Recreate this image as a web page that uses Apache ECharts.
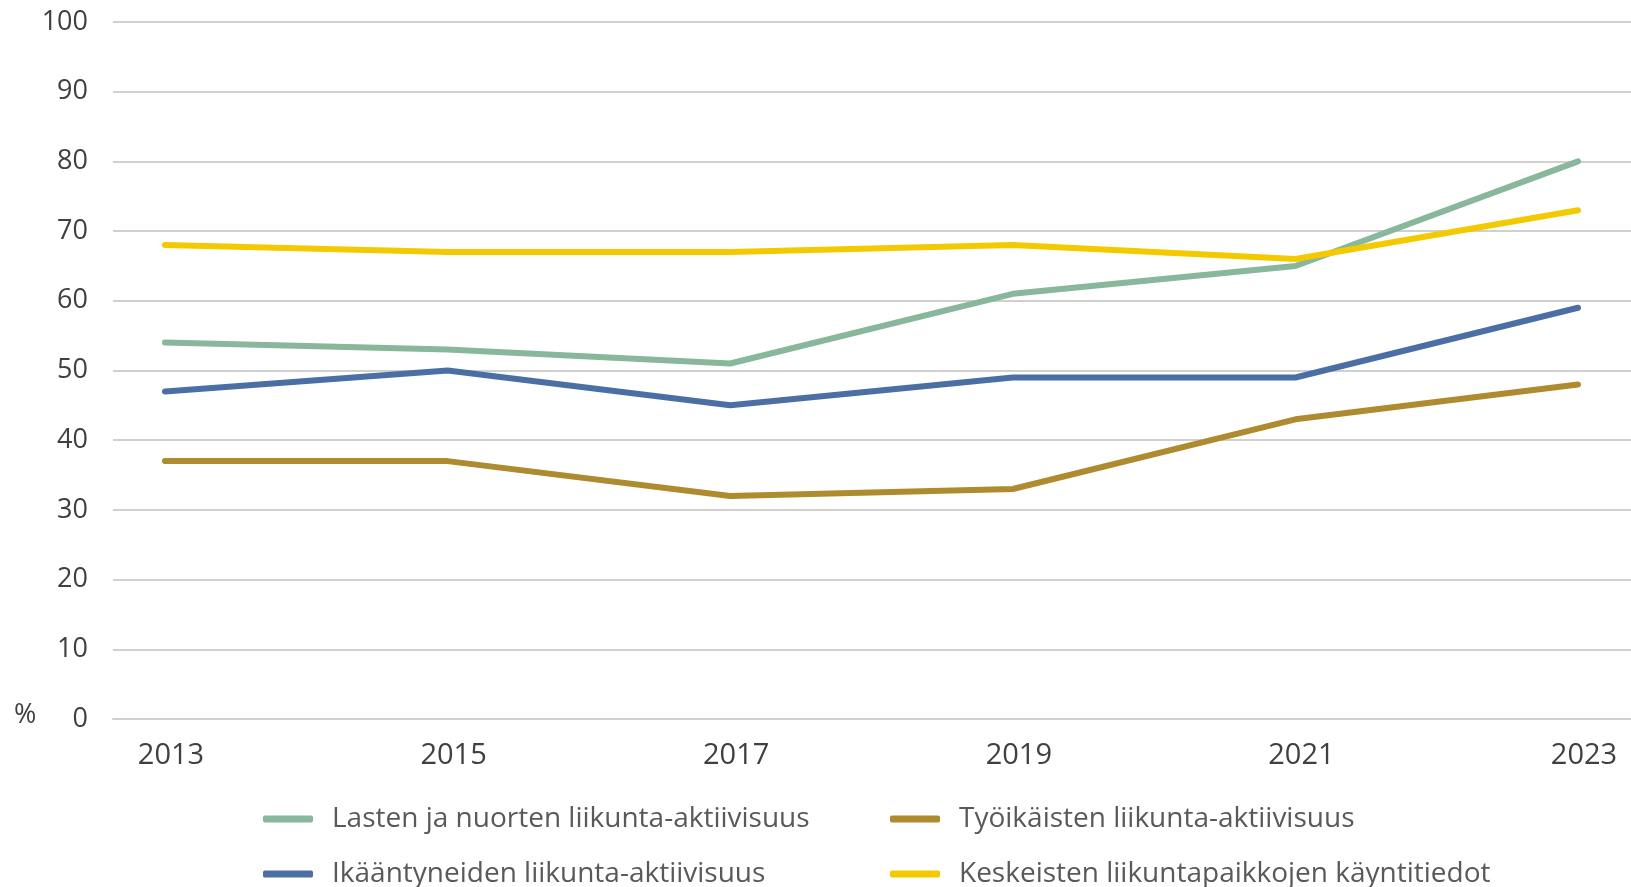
<!DOCTYPE html>
<html>
<head>
<meta charset="utf-8">
<script src="https://cdn.jsdelivr.net/npm/echarts@6/dist/echarts.min.js"></script>
<style>
  html, body { margin: 0; padding: 0; background: #fff; }
  #main { width: 1631px; height: 887px; }
</style>
</head>
<body>
<div id="main"></div>
<script>
  var years = [2013, 2015, 2017, 2019, 2021, 2023];
  var lapset = [54, 53, 51, 61, 65, 80];
  var tyoikaiset = [37, 37, 32, 33, 43, 48];
  var ikaantyneet = [47, 50, 45, 49, 49, 59];
  var kaynnit = [68, 67, 67, 68, 66, 73];
  var yTicks = [0, 10, 20, 30, 40, 50, 60, 70, 80, 90, 100];

  var names = [
    'Lasten ja nuorten liikunta-aktiivisuus',
    'Työikäisten liikunta-aktiivisuus',
    'Ikääntyneiden liikunta-aktiivisuus',
    'Keskeisten liikuntapaikkojen käyntitiedot'
  ];
  var colors = ['#88b79b', '#ad8b2e', '#4b6fa5', '#f3ca00'];
  var values = [lapset, tyoikaiset, ikaantyneet, kaynnit];

  function pairs(arr) {
    return years.map(function (y, i) { return [y, arr[i]]; });
  }

  var myChart = echarts.init(document.getElementById('main'));
  var font = 'Open Sans';

  var legendText = {
    color: '#595959',
    fontFamily: font,
    fontSize: 28,
    lineHeight: 28,
    padding: [0, 0, 0, 14]
  };

  function legendAt(left, items) {
    return {
      orient: 'vertical',
      left: left,
      top: 805,
      height: 84,
      padding: 0,
      itemGap: 27,
      itemWidth: 50,
      itemHeight: 7,
      icon: 'roundRect',
      textStyle: legendText,
      data: items
    };
  }

  var option = {
    backgroundColor: '#fff',
    animation: false,
    grid: { left: 113, right: 0, top: 22, bottom: 168 },
    xAxis: {
      type: 'value',
      min: 2012.632,
      max: 2023.375,
      axisLine: { show: true, lineStyle: { color: '#d0d0d0', width: 2 } },
      axisTick: { show: false },
      splitLine: { show: false },
      axisLabel: {
        customValues: years,
        color: '#404040',
        fontFamily: font,
        fontSize: 29,
        margin: 22,
        padding: [0, 0, 0, 12],
        formatter: function (v) { return String(Math.round(v)); }
      }
    },
    yAxis: {
      type: 'value',
      min: yTicks[0],
      max: yTicks[yTicks.length - 1],
      interval: 10,
      axisLine: { show: false },
      axisTick: { show: false },
      splitLine: { lineStyle: { color: '#d0d0d0', width: 2 } },
      axisLabel: {
        color: '#404040',
        fontFamily: font,
        fontSize: 27,
        margin: 25
      }
    },
    legend: [
      legendAt(263, [names[0], names[2]]),
      legendAt(890, [names[1], names[3]])
    ],
    graphic: [{
      type: 'text',
      left: 14,
      top: 702,
      style: {
        text: '%',
        fill: '#404040',
        font: '27px ' + font
      }
    }],
    series: names.map(function (n, i) {
      return {
        name: n,
        type: 'line',
        data: pairs(values[i]),
        showSymbol: false,
        symbol: 'none',
        color: colors[i],
        lineStyle: { width: 6, color: colors[i], cap: 'round', join: 'round' }
      };
    })
  };

  myChart.setOption(option);
</script>
</body>
</html>
